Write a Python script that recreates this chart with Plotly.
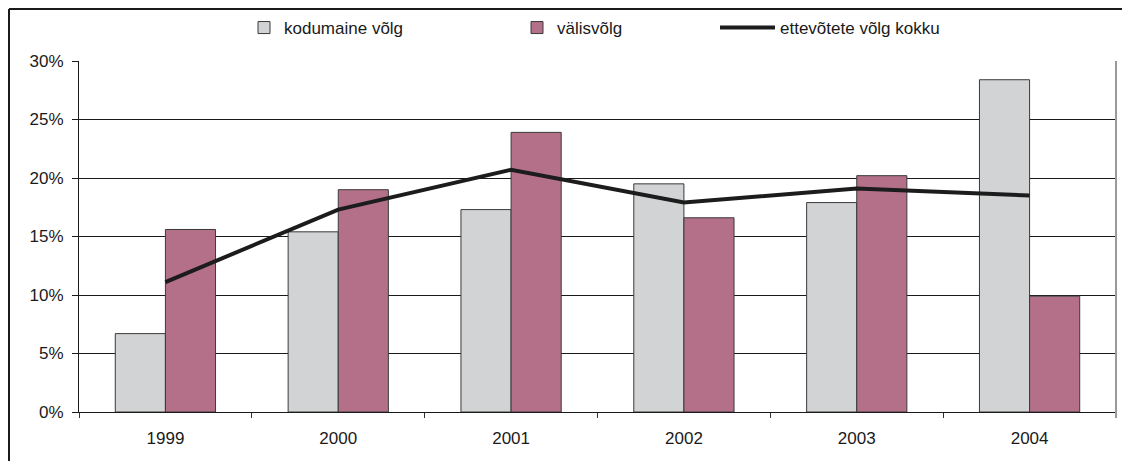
import plotly.graph_objects as go

years = ["1999", "2000", "2001", "2002", "2003", "2004"]
kodumaine = [6.7, 15.4, 17.3, 19.5, 17.9, 28.4]
valis = [15.6, 19.0, 23.9, 16.6, 20.2, 9.9]
kokku = [11.1, 17.3, 20.7, 17.9, 19.1, 18.5]
y_ticks = [0, 5, 10, 15, 20, 25, 30]
y_labels = [f"{v}%" for v in y_ticks]

FONT = "Liberation Sans, Arial, sans-serif"
# the page body adds an 8px offset, so the figure is drawn 8px smaller
W, H = 1122, 453
L, R, T, B = 71, 14, 53, 49
pw = W - L - R
ph = H - T - B

def px(x):
    return (x - L) / pw

def py(y):
    return (H - B - y) / ph

fig = go.Figure()
fig.add_trace(go.Bar(
    x=years, y=kodumaine, name="kodumaine võlg",
    marker=dict(color="#D1D3D4", line=dict(color="#3a3a3a", width=1)),
    legend="legend",
))
fig.add_trace(go.Bar(
    x=years, y=valis, name="välisvõlg",
    marker=dict(color="#B47089", line=dict(color="#3a3a3a", width=1)),
    legend="legend2",
))
fig.add_trace(go.Scatter(
    x=years, y=kokku, name="ettevõtete võlg kokku", mode="lines",
    line=dict(color="#1c1c1c", width=4),
    legend="legend3",
))

leg_common = dict(orientation="h", yanchor="middle", xanchor="left",
                  font=dict(family=FONT, size=17, color="#1a1a1a"),
                  bgcolor="rgba(0,0,0,0)", borderwidth=0)

fig.update_layout(
    width=W, height=H,
    margin=dict(l=L, r=R, t=T, b=B, autoexpand=False),
    paper_bgcolor="white", plot_bgcolor="white",
    showlegend=True,
    barmode="group", bargap=0.42, bargroupgap=0,
    font=dict(family=FONT, size=17, color="#1a1a1a"),
    legend=dict(x=px(236), y=py(20), **leg_common),
    legend2=dict(x=px(509), y=py(20), **leg_common),
    legend3=dict(x=px(707), y=py(20), itemwidth=55, **leg_common),
    xaxis=dict(
        type="category", tickson="boundaries", ticks="outside", ticklen=5,
        tickcolor="#333", showline=True, linecolor="#1a1a1a", linewidth=1,
        showgrid=False, ticklabelstandoff=11,
        tickfont=dict(family=FONT, size=17, color="#1a1a1a"),
    ),
    yaxis=dict(
        range=[0, 30], tickvals=y_ticks, ticktext=y_labels,
        ticks="outside", ticklen=6, tickcolor="#1a1a1a",
        showline=True, linecolor="#1a1a1a", linewidth=1,
        showgrid=True, gridcolor="#1a1a1a", gridwidth=1, zeroline=False,
        ticklabelstandoff=5,
        tickfont=dict(family=FONT, size=17, color="#1a1a1a"),
    ),
    shapes=[
        # right border of plot area (gray)
        dict(type="line", xref="paper", yref="paper", x0=1, x1=1, y0=py(H - B + 6), y1=1,
             line=dict(color="#9a9a9a", width=2)),
        # outer frame (left and top)
        dict(type="line", xref="paper", yref="paper", x0=px(1), x1=px(1), y0=py(H), y1=py(1),
             line=dict(color="#1a1a1a", width=2)),
        dict(type="line", xref="paper", yref="paper", x0=px(1), x1=px(W), y0=py(1), y1=py(1),
             line=dict(color="#1a1a1a", width=2)),
    ],
)

fig.write_html("out.html")
